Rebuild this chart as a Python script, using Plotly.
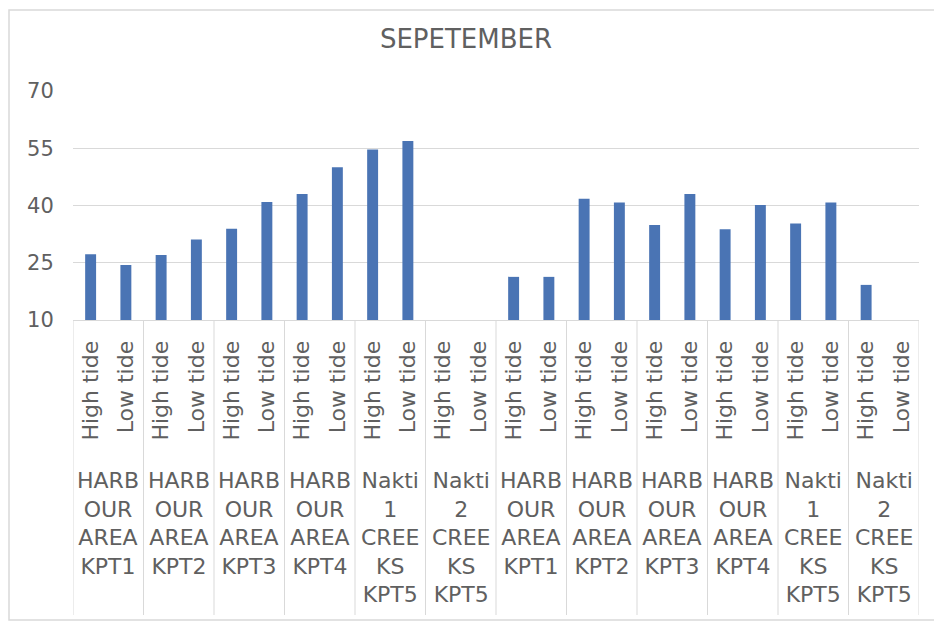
import plotly.graph_objects as go

# ---- data ----
groups = [
    "HARB<br>OUR<br>AREA<br>KPT1", "HARB<br>OUR<br>AREA<br>KPT2", "HARB<br>OUR<br>AREA<br>KPT3",
    "HARB<br>OUR<br>AREA<br>KPT4", "Nakti<br>1<br>CREE<br>KS<br>KPT5", "Nakti<br>2<br>CREE<br>KS<br>KPT5",
    "HARB<br>OUR<br>AREA<br>KPT1", "HARB<br>OUR<br>AREA<br>KPT2", "HARB<br>OUR<br>AREA<br>KPT3",
    "HARB<br>OUR<br>AREA<br>KPT4", "Nakti<br>1<br>CREE<br>KS<br>KPT5", "Nakti<br>2<br>CREE<br>KS<br>KPT5",
]
tides = ["High tide", "Low tide"]
values = [
    27.2, 24.4, 27.0, 31.1, 33.9, 40.9, 43.0, 50.0, 54.7, 56.9, None, None,
    21.3, 21.3, 41.8, 40.8, 34.9, 43.0, 33.8, 40.1, 35.3, 40.8, 19.2, None,
]
y_ticks = [10, 25, 40, 55, 70]
title = "SEPETEMBER"

# ---- layout constants (reference pixel coords, page offset compensated) ----
OFF = 8
W, H = 942 - OFF, 627 - OFF
L, R, T, B = 73 - OFF, 919 - OFF, 91 - OFF, 320 - OFF
FONT = "DejaVu Sans"
TXT = "#606060"
GRID = "#d9d9d9"

n = len(values)
xs = list(range(n))
tick_text = [tides[i % len(tides)] for i in range(n)]

fig = go.Figure()
fig.add_trace(go.Bar(
    x=xs, y=values, width=0.31,
    marker=dict(color="#4A74B4", line=dict(width=0)),
    hoverinfo="y",
))

plot_h = B - T
def py(Y):
    return (B - (Y - OFF)) / plot_h

plot_w = R - L
def px(X):
    return ((X - OFF) - L) / plot_w

shapes = []
for g in range(len(groups) + 1):
    xb = g * 2 - 0.5
    shapes.append(dict(type="line", xref="x", yref="paper", x0=xb, x1=xb,
                       y0=0, y1=py(615), line=dict(color=GRID, width=1)))
shapes.append(dict(type="rect", xref="paper", yref="paper",
                   x0=px(9), x1=px(935), y0=py(620), y1=py(10),
                   line=dict(color=GRID, width=1.5), layer="below"))

annotations = []
for g, lab in enumerate(groups):
    annotations.append(dict(
        x=g * 2 + 0.5, xref="x", y=py(466), yref="paper",
        text=lab, showarrow=False, xanchor="center", yanchor="top",
        align="center", font=dict(family=FONT, size=22, color=TXT),
    ))

fig.update_layout(
    width=W, height=H,
    margin=dict(l=L, r=W - R, t=T, b=H - B, pad=0),
    paper_bgcolor="white", plot_bgcolor="white",
    showlegend=False,
    title=dict(text=title, x=(466 - OFF) / W, xanchor="center",
               y=1 - (39 - OFF) / H, yanchor="middle",
               font=dict(family=FONT, size=26, color=TXT)),
    xaxis=dict(
        range=[-0.5, n - 0.5], tickmode="array", tickvals=xs, ticktext=tick_text,
        tickangle=-90, ticks="outside", ticklen=11, tickcolor="rgba(0,0,0,0)",
        tickfont=dict(family=FONT, size=22, color=TXT),
        showgrid=False, showline=True, linecolor=GRID, linewidth=1,
        zeroline=False, automargin=False, fixedrange=True,
    ),
    yaxis=dict(
        range=[10, 70], tickmode="array", tickvals=y_ticks,
        ticks="outside", ticklen=14, tickcolor="rgba(0,0,0,0)",
        tickfont=dict(family=FONT, size=21, color=TXT),
        showgrid=True, gridcolor=GRID, gridwidth=1,
        zeroline=False, showline=False, automargin=False, fixedrange=True,
    ),
    shapes=shapes,
    annotations=annotations,
)

fig.write_html("out.html")
